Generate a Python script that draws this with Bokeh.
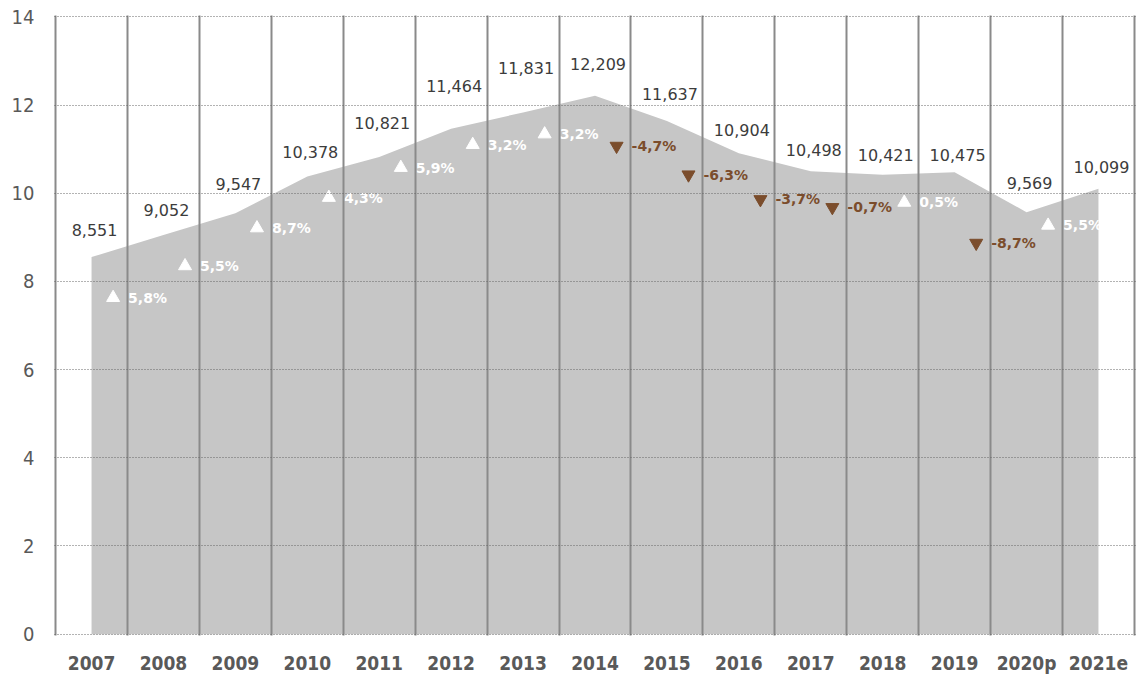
from bokeh.plotting import figure
from bokeh.models import Range1d, FixedTicker, ColumnDataSource
from bokeh.core.properties import value
from bokeh.embed import file_html
from bokeh.resources import INLINE

years = ["2007", "2008", "2009", "2010", "2011", "2012", "2013", "2014",
         "2015", "2016", "2017", "2018", "2019", "2020p", "2021e"]
values = [8551, 9052, 9547, 10378, 10821, 11464, 11831, 12209,
          11637, 10904, 10498, 10421, 10475, 9569, 10099]
value_texts = ["8,551", "9,052", "9,547", "10,378", "10,821", "11,464", "11,831", "12,209",
               "11,637", "10,904", "10,498", "10,421", "10,475", "9,569", "10,099"]
value_label_level = [9.16, 9.61, 10.22, 10.94, 11.59, 12.42, 12.83, 12.94,
                     12.24, 11.43, 10.98, 10.87, 10.87, 10.24, 10.60]
growth_texts = ["5,8%", "5,5%", "8,7%", "4,3%", "5,9%", "3,2%", "3,2%",
                "-4,7%", "-6,3%", "-3,7%", "-0,7%", "0,5%", "-8,7%", "5,5%"]
growth_pct = [5.8, 5.5, 8.7, 4.3, 5.9, 3.2, 3.2, -4.7, -6.3, -3.7, -0.7, 0.5, -8.7, 5.5]
growth_marker_level = [7.63, 8.35, 9.21, 9.90, 10.58, 11.10, 11.34,
                       11.07, 10.42, 9.86, 9.68, 9.79, 8.87, 9.27]
y_ticks = [0, 2, 4, 6, 8, 10, 12, 14]

UP = "#ffffff"
DOWN = "#7b4d2c"

n = len(years)
centers = [i + 0.5 for i in range(n)]

p = figure(width=1141, height=676, output_backend="svg", toolbar_location=None,
           x_range=Range1d(-0.015, n + 0.015), y_range=Range1d(-0.03, 14.03),
           min_border_left=54, min_border_right=6, min_border_top=15, min_border_bottom=39)
p.outline_line_color = None
p.background_fill_color = "white"

p.varea(x=centers, y1=[0] * n, y2=[v / 1000 for v in values], fill_color="#c6c6c6")

# value labels
vsrc = ColumnDataSource(dict(x=centers, y=value_label_level, t=value_texts))
p.text(x="x", y="y", text="t", source=vsrc, x_offset=3, text_align="center", text_baseline="middle",
       text_font=value("DejaVu Sans"), text_font_size="16px", text_color="#3c3c3c")

# growth markers
gx = [i + 1 - 0.2 for i in range(n - 1)]
up_idx = [i for i, g in enumerate(growth_pct) if g >= 0]
dn_idx = [i for i, g in enumerate(growth_pct) if g < 0]
for idx, marker, col in [(up_idx, "triangle", UP), (dn_idx, "inverted_triangle", DOWN)]:
    src = ColumnDataSource(dict(x=[gx[i] for i in idx], y=[growth_marker_level[i] for i in idx],
                                t=[growth_texts[i] for i in idx]))
    p.scatter(x="x", y="y", source=src, marker=marker, size=13, fill_color=col, line_color=col)
    p.text(x="x", y="y", text="t", source=src, x_offset=15, text_align="left", text_baseline="middle",
           text_font=value("DejaVu Sans"), text_font_style="bold", text_font_size="14px", text_color=col)

# grids
p.xgrid.ticker = FixedTicker(ticks=list(range(n + 1)))
p.xgrid.grid_line_color = "#8a8a8a"
p.xgrid.grid_line_width = 2
p.xgrid.level = "annotation"
p.ygrid.ticker = FixedTicker(ticks=y_ticks)
p.ygrid.grid_line_color = "#666666"
p.ygrid.grid_line_dash = "1 2"
p.ygrid.grid_line_width = 1
p.ygrid.level = "annotation"

# axes
p.xaxis.ticker = FixedTicker(ticks=centers)
p.xaxis.major_label_overrides = {c: y for c, y in zip(centers, years)}
p.yaxis.ticker = FixedTicker(ticks=y_ticks)
for ax in (p.xaxis, p.yaxis):
    ax.axis_line_color = None
    ax.major_tick_line_color = None
    ax.minor_tick_line_color = None
    ax.major_tick_out = 0
    ax.major_tick_in = 0
    ax.major_label_text_color = "#595959"
p.xaxis.major_label_text_font = "DejaVu Sans Condensed"
p.xaxis.major_label_text_font_style = "bold"
p.xaxis.major_label_text_font_size = "19px"
p.xaxis.major_label_standoff = 16
p.yaxis.major_label_text_font = "DejaVu Sans Condensed"
p.yaxis.major_label_text_font_size = "20px"
p.yaxis.major_label_standoff = 20

open("out.html", "w").write(file_html(p, INLINE))
